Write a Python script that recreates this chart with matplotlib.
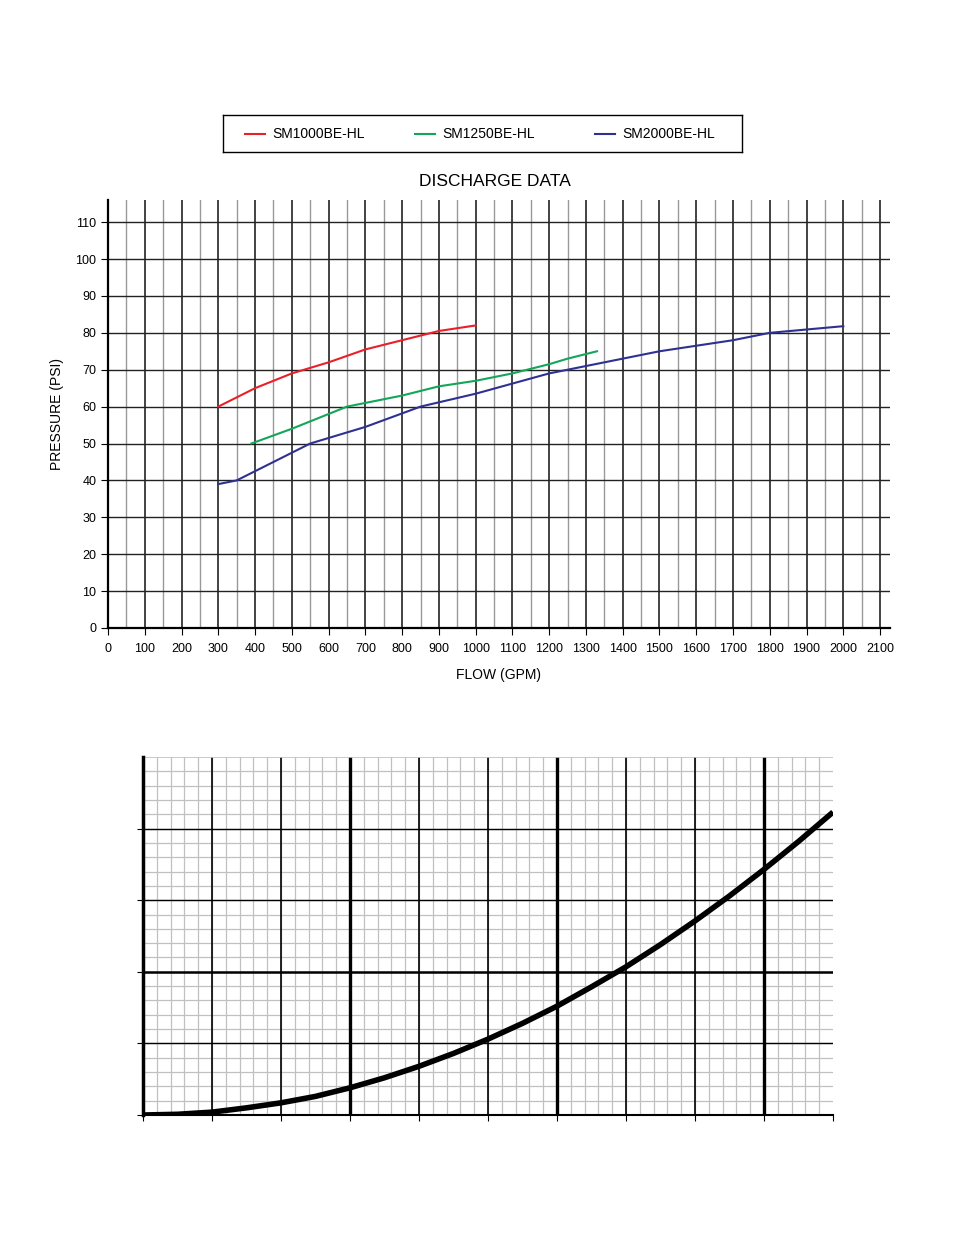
import numpy as np
import matplotlib
matplotlib.use("Agg")
import matplotlib.pyplot as plt

# discharge data (GPM, PSI)
red_x = [300, 400, 500, 600, 700, 800, 900, 1000]
red_y = [60, 65, 69, 72, 75.5, 78, 80.5, 82]
green_x = [390, 500, 650, 800, 900, 1000, 1100, 1200, 1250, 1330]
green_y = [50, 54, 60, 63, 65.5, 67, 69, 71.5, 73, 75]
blue_x = [300, 350, 450, 550, 700, 850, 1000, 1200, 1400, 1500, 1700, 1800, 2000]
blue_y = [39, 40, 45, 50, 54.5, 60, 63.5, 69, 73, 75, 78, 80, 81.8]
series_names = ["SM1000BE-HL", "SM1250BE-HL", "SM2000BE-HL"]
series_colors = ["#e8202a", "#13a65a", "#2e3192"]
x_ticks = list(range(0, 2101, 100))
y_ticks = list(range(0, 111, 10))

# lower chart curve (grid units)
curve_x = [0, 0.5, 1, 1.5, 2, 2.5, 3, 3.5, 4, 4.5, 5, 5.5, 6, 6.5, 7, 7.5, 8, 8.5, 9, 9.5, 10]
curve_y = [0, 0.01, 0.04, 0.1, 0.17, 0.26, 0.38, 0.52, 0.68, 0.86, 1.06, 1.28, 1.52, 1.79, 2.07, 2.38, 2.71, 3.06, 3.43, 3.82, 4.23]

fig = plt.figure(figsize=(9.54, 12.35), dpi=100)
plt.rcParams["font.family"] = "Liberation Sans"

# legend box
lax = fig.add_axes([223/954, 1-152/1235, 519/954, 37/1235])
lax.set_xlim(0, 519); lax.set_ylim(0, 37)
lax.set_xticks([]); lax.set_yticks([])
for s in lax.spines.values():
    s.set_linewidth(1.0)
for x0, name, c in zip([22, 192, 372], series_names, series_colors):
    lax.plot([x0, x0 + 20], [18.5, 18.5], color=c, lw=1.5)
    lax.text(x0 + 27, 18.5, name, va="center", fontsize=10)

ax = fig.add_axes([108/954, 1-628/1235, 782/954, 428/1235])
ax.set_xlim(0, 2127)
ax.set_ylim(0, 116)
for v in range(50, 2101, 50):
    major = v % 100 == 0
    ax.axvline(v, color="#222" if major else "#999", lw=1.2 if major else 1.0, zorder=0)
for v in range(10, 111, 10):
    ax.axhline(v, color="#222", lw=1.0, zorder=0)
for s in ["top", "right"]:
    ax.spines[s].set_visible(False)
ax.spines["left"].set_linewidth(1.6)
ax.spines["bottom"].set_linewidth(1.6)
ax.set_xticks(x_ticks)
ax.set_yticks(y_ticks)
ax.tick_params(labelsize=9, length=5)
ax.tick_params(axis="x", pad=6)
ax.plot(red_x, red_y, color=series_colors[0], lw=1.5)
ax.plot(green_x, green_y, color=series_colors[1], lw=1.5)
ax.plot(blue_x, blue_y, color=series_colors[2], lw=1.5)
ax.set_xlabel("FLOW (GPM)", fontsize=10, labelpad=9)
ax.set_ylabel("PRESSURE (PSI)", fontsize=10, labelpad=8)
fig.text(495/954, 1-181/1235, "DISCHARGE DATA", ha="center", va="center", fontsize=12.5)

# lower grid chart
bx = fig.add_axes([143/954, 1-1115/1235, 690/954, 358/1235])
bx.set_xlim(0, 10); bx.set_ylim(0, 5)
for v in np.arange(0.2, 10, 0.2):
    bx.axvline(v, color="#c0c0c0", lw=0.9, zorder=0)
for v in np.arange(0.2, 5, 0.2):
    bx.axhline(v, color="#c0c0c0", lw=0.9, zorder=0)
for v in range(1, 10):
    bx.axvline(v, color="black", lw=2.4 if v % 3 == 0 else 1.2, zorder=1)
for v in range(1, 5):
    bx.axhline(v, color="black", lw=1.8 if v == 2 else 1.0, zorder=1)
bx.axhline(5, color="#c0c0c0", lw=1.2)
for s in ["top", "right"]:
    bx.spines[s].set_visible(False)
bx.spines["left"].set_linewidth(2.5)
bx.spines["bottom"].set_linewidth(1.5)
bx.set_xticks(range(0, 11)); bx.set_yticks(range(0, 5))
bx.set_xticklabels([]); bx.set_yticklabels([])
bx.tick_params(length=4)
bx.plot(curve_x, curve_y, color="black", lw=4, solid_capstyle="butt", zorder=3)

fig.savefig("out.png", facecolor="white")
